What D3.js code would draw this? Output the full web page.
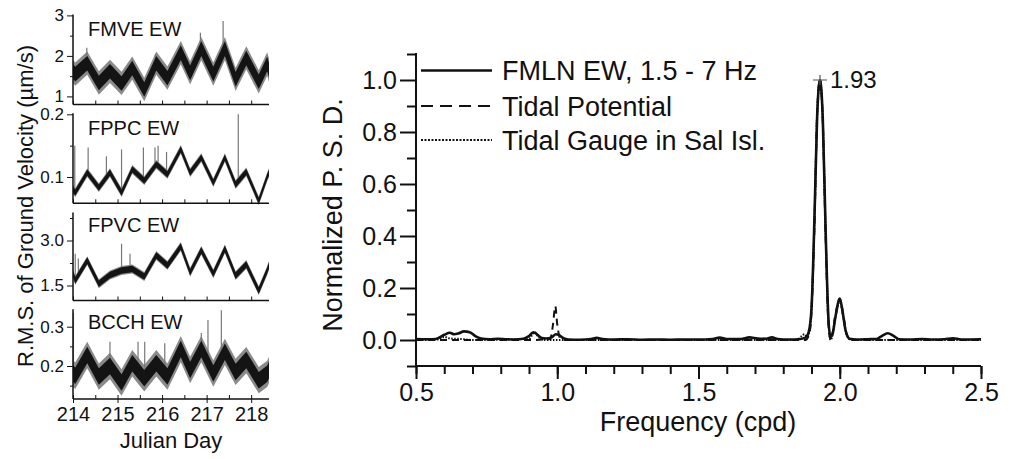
<!DOCTYPE html>
<html>
<head>
<meta charset="utf-8">
<script src="https://cdn.jsdelivr.net/npm/d3@7"></script>
<style>
  body { margin: 0; background: #fff; }
  svg { display: block; font-family: "Liberation Sans", Arial, sans-serif; }
  .axis path, .axis line { stroke: #111; }
  .axis text { fill: #111; }
</style>
</head>
<body>
<svg id="chart" width="1009" height="459"></svg>
<script>
// ---- left panels: RMS of ground velocity vs Julian day ----
const days = [214.0, 214.05, 214.32, 214.58, 214.83, 215.09, 215.33, 215.6, 215.87, 216.12,
              216.42, 216.63, 216.88, 217.15, 217.41, 217.65, 217.89, 218.17, 218.36, 218.4];
const fmveMid = [1.62, 1.55, 1.82, 1.33, 1.62, 1.32, 1.7, 1.17, 1.82, 1.45, 2.08, 1.58, 2.18, 1.55, 2.18, 1.42, 1.95, 1.36, 1.8, 1.65];
const fppcMid = [0.08, 0.075, 0.107, 0.083, 0.107, 0.075, 0.112, 0.094, 0.12, 0.104, 0.144, 0.107, 0.131, 0.091, 0.131, 0.088, 0.108, 0.062, 0.1, 0.107];
const fpvcMid = [1.89, 1.67, 2.33, 1.56, 1.85, 2.0, 2.05, 1.8, 2.5, 2.17, 2.8, 1.94, 2.67, 1.89, 2.72, 1.83, 2.2, 1.33, 2.0, 2.17];
const bcchMid = [0.181, 0.175, 0.228, 0.173, 0.2, 0.158, 0.207, 0.169, 0.207, 0.173, 0.243, 0.19, 0.243, 0.181, 0.236, 0.185, 0.215, 0.164, 0.18, 0.19];
const bandHalf = [0.18, 0.005, 0.11, 0.021];   // half thickness of the noisy band
const fuzzScale = [1.6, 1.4, 1.35, 1.6];        // grey halo around the band
const fmveSpikes = [[214.31, 2.2], [215.85, 2.05], [216.86, 2.57], [217.37, 2.86], [218.34, 1.98]];
const fppcSpikes = [[214.04, 0.15], [214.34, 0.147], [214.75, 0.133], [215.09, 0.144], [215.58, 0.147],
                    [215.84, 0.147], [215.91, 0.15], [216.1, 0.14], [217.71, 0.2]];
const fpvcSpikes = [[214.05, 2.56], [214.12, 2.4], [215.09, 2.89], [215.28, 2.56]];
const bcchSpikes = [[214.01, 0.335], [214.83, 0.262], [215.46, 0.262], [215.61, 0.262], [216.06, 0.258],
                    [216.88, 0.284], [217.03, 0.317], [217.33, 0.342]];
const stationNames = ['FMVE EW', 'FPPC EW', 'FPVC EW', 'BCCH EW'];
const dayTicks = [214, 215, 216, 217, 218];

// ---- right panel: normalized PSD vs frequency ----
const fmlnFreq = [0.50,0.54,0.57,0.60,0.62,0.635,0.65,0.67,0.69,0.71,0.73,0.76,0.79,0.82,0.85,0.88,0.90,0.915,0.93,0.945,
  0.96,0.98,0.995,1.005,1.02,1.04,1.08,1.12,1.14,1.16,1.20,1.25,1.30,1.35,1.40,1.45,1.50,1.55,1.575,1.60,
  1.65,1.68,1.71,1.74,1.76,1.78,1.82,1.86,1.88,1.89,1.90,1.91,1.92,1.93,1.94,1.95,1.96,1.967,1.975,1.985,
  2.00,2.01,2.02,2.035,2.06,2.10,2.13,2.15,2.17,2.19,2.21,2.25,2.29,2.33,2.37,2.40,2.43,2.50];
const fmlnPsd = [0.004,0.003,0.004,0.02,0.028,0.022,0.025,0.033,0.03,0.015,0.006,0.003,0.005,0.003,0.002,0.005,0.015,0.03,0.02,0.008,
  0.006,0.01,0.022,0.02,0.008,0.002,0.001,0.004,0.008,0.004,0.002,0.003,0.001,0.002,0.001,0.002,0.002,0.004,0.009,0.004,
  0.004,0.01,0.006,0.005,0.01,0.004,0.002,0.004,0.01,0.03,0.12,0.45,0.86,1.0,0.85,0.42,0.08,0.012,0.025,0.09,
  0.158,0.11,0.04,0.005,0.002,0.003,0.004,0.016,0.026,0.016,0.003,0.002,0.004,0.002,0.003,0.007,0.002,0.003];
const potFreq = [0.50,0.90,0.975,0.985,0.993,1.0,1.01,1.03,1.88,1.895,1.91,1.92,1.93,1.94,1.95,1.96,1.968,1.985,2.0,2.012,2.025,2.04,2.50];
const potPsd  = [0,0,0.004,0.06,0.13,0.06,0.008,0,0,0.04,0.42,0.87,1.0,0.84,0.4,0.06,0,0.1,0.16,0.1,0.02,0,0];
const gaugeFreq = [0.50,0.58,0.60,0.62,0.66,0.70,0.90,0.92,0.935,0.96,1.85,1.865,1.875,1.885,1.895,1.91,1.92,1.93,1.94,1.95,
  1.96,1.968,1.985,2.0,2.012,2.025,2.04,2.50];
const gaugePsd  = [0,0.002,0.012,0.006,0.004,0,0.005,0.03,0.01,0,0,0.015,0.022,0.012,0.05,0.43,0.87,1.0,0.84,0.41,
  0.07,0,0.09,0.15,0.09,0.02,0,0];
const legendLabels = ['FMLN EW, 1.5 - 7 Hz', 'Tidal Potential', 'Tidal Gauge in Sal Isl.'];
const peakFreq = 1.93, peakValue = 1.0;

const svg = d3.select('#chart');
const zip = (xs, ys) => xs.map((v, i) => [v, ys[i]]);

// ================= left stack =================
const xDay = d3.scaleLinear().domain([214, 218.4]).range([73, 269]);
const panels = [
  { mid: fmveMid, spikes: fmveSpikes, dom: [0.8, 3.0],   rng: [104.5, 15.4], major: [1, 2, 3],    minor: [1.5, 2.5],   fmt: d3.format('d'),   labY: 36 },
  { mid: fppcMid, spikes: fppcSpikes, dom: [0.058, 0.2], rng: [203.3, 114.3], major: [0.1, 0.2], minor: [0.15],       fmt: d3.format('.1f'), labY: 134.5 },
  { mid: fpvcMid, spikes: fpvcSpikes, dom: [1.0, 3.9],   rng: [300.5, 213.5], major: [1.5, 3.0], minor: [2.25, 3.75], fmt: d3.format('.1f'), labY: 232 },
  { mid: bcchMid, spikes: bcchSpikes, dom: [0.116, 0.342], rng: [399, 310.2], major: [0.2, 0.3], minor: [0.15, 0.25], fmt: d3.format('.1f'), labY: 329 }
];

panels.forEach((p, i) => {
  const y = d3.scaleLinear().domain(p.dom).range(p.rng);
  const g = svg.append('g');
  const pts = zip(days, p.mid);
  const hw = bandHalf[i];

  // grey fuzz around the band
  g.append('path')
    .datum(pts)
    .attr('fill', '#8a8a8a')
    .attr('d', d3.area().x(d => xDay(d[0])).y0(d => y(d[1] - hw * fuzzScale[i])).y1(d => y(d[1] + hw * fuzzScale[i])));
  // spikes
  const bis = d3.bisector(d => d[0]).left;
  g.selectAll('line.spike').data(p.spikes).join('line')
    .attr('class', 'spike')
    .attr('x1', d => xDay(d[0])).attr('x2', d => xDay(d[0]))
    .attr('y1', d => y(d[1]))
    .attr('y2', d => {
      const k = Math.max(1, bis(pts, d[0]));
      const a = pts[k - 1], b = pts[k];
      const t = (d[0] - a[0]) / (b[0] - a[0]);
      return y(a[1] + t * (b[1] - a[1]));
    })
    .attr('stroke', '#777').attr('stroke-width', 1.2);
  // dark band
  g.append('path')
    .datum(pts)
    .attr('fill', '#141414')
    .attr('d', d3.area().x(d => xDay(d[0])).y0(d => y(d[1] - hw)).y1(d => y(d[1] + hw)));

  // left axis
  const ay = g.append('g').attr('class', 'axis').attr('transform', 'translate(73,0)');
  ay.call(d3.axisLeft(y).tickValues(p.minor).tickSize(3).tickFormat(''));
  const ayMaj = g.append('g').attr('class', 'axis').attr('transform', 'translate(73,0)')
    .call(d3.axisLeft(y).tickValues(p.major).tickSize(6).tickPadding(3).tickFormat(p.fmt));
  ayMaj.select('.domain').remove();
  ay.select('.domain').attr('d', `M0,${p.rng[0]}V${p.rng[1] - 1}`).attr('stroke-width', 1.5);
  ayMaj.selectAll('text').style('font-size', '17px');

  // bottom axis with inward ticks
  const ax = g.append('g').attr('class', 'axis').attr('transform', `translate(0,${p.rng[0]})`);
  ax.call(d3.axisBottom(xDay).tickValues(d3.range(214, 218.41, 0.5)).tickSize(-4).tickFormat(''));
  ax.select('.domain').attr('d', `M73,0H269`).attr('stroke-width', 1.5);
  if (i === 3) {
    const axl = g.append('g').attr('class', 'axis').attr('transform', `translate(0,${p.rng[0]})`)
      .call(d3.axisBottom(xDay).tickValues(dayTicks).tickSize(4).tickPadding(4).tickFormat(d3.format('d')));
    axl.select('.domain').remove();
    axl.selectAll('text').style('font-size', '20px');
  }

  g.append('text')
    .attr('x', 88).attr('y', p.labY)
    .attr('fill', '#111')
    .style('font-size', '20px')
    .text(stationNames[i]);
});

svg.append('text')
  .attr('transform', 'translate(33,206) rotate(-90)')
  .attr('text-anchor', 'middle')
  .attr('fill', '#111')
  .style('font-size', '22px')
  .text('R.M.S. of Ground Velocity (\u00b5m/s)');
svg.append('text')
  .attr('x', 171).attr('y', 448)
  .attr('text-anchor', 'middle')
  .attr('fill', '#111')
  .style('font-size', '22px')
  .text('Julian Day');

// ================= right panel =================
const x = d3.scaleLinear().domain([0.5, 2.5]).range([416, 981]);
const y = d3.scaleLinear().domain([-0.1, 1.1]).range([366, 54]);
const right = svg.append('g');

// axes
const xMinor = right.append('g').attr('class', 'axis').attr('transform', 'translate(0,366)')
  .call(d3.axisBottom(x).tickValues(d3.range(0.5, 2.51, 0.1)).tickSize(8).tickFormat(''));
xMinor.select('.domain').attr('d', 'M416,0H981');
const xMajor = right.append('g').attr('class', 'axis').attr('transform', 'translate(0,366)')
  .call(d3.axisBottom(x).tickValues([0.5, 1.0, 1.5, 2.0, 2.5]).tickSize(13).tickPadding(4).tickFormat(d3.format('.1f')));
xMajor.select('.domain').remove();
xMajor.selectAll('text').style('font-size', '25px');

const yMinor = right.append('g').attr('class', 'axis').attr('transform', 'translate(416,0)')
  .call(d3.axisLeft(y).tickValues([-0.1, 0.1, 0.3, 0.5, 0.7, 0.9, 1.1]).tickSize(9).tickFormat(''));
yMinor.select('.domain').attr('d', 'M0,366V53');
const yMajor = right.append('g').attr('class', 'axis').attr('transform', 'translate(416,0)')
  .call(d3.axisLeft(y).tickValues([0, 0.2, 0.4, 0.6, 0.8, 1.0]).tickSize(16).tickPadding(3).tickFormat(d3.format('.1f')));
yMajor.select('.domain').remove();
yMajor.selectAll('text').style('font-size', '25px');
right.selectAll('.axis path, .axis line').attr('stroke-width', 2);

// curves
const line = d3.line().x(d => x(d[0])).y(d => y(d[1])).curve(d3.curveMonotoneX);
const series = [
  { pts: zip(fmlnFreq, fmlnPsd), dash: null, w: 2.6 },
  { pts: zip(potFreq, potPsd), dash: '7,5', w: 2 },
  { pts: zip(gaugeFreq, gaugePsd), dash: '1.5,1.5', w: 2 }
];
series.slice().reverse().forEach(s => {
  right.append('path')
    .datum(s.pts)
    .attr('fill', 'none')
    .attr('stroke', '#111')
    .attr('stroke-width', s.w)
    .attr('stroke-dasharray', s.dash)
    .attr('d', line);
});

// peak marker and label
right.append('path')
  .attr('d', `M${x(peakFreq) - 7},${y(peakValue)}H${x(peakFreq) + 7}M${x(peakFreq)},${y(peakValue) - 5}V${y(peakValue) + 5}`)
  .attr('stroke', '#555').attr('stroke-width', 1.2);
right.append('text')
  .attr('x', x(peakFreq) + 10).attr('y', y(peakValue) + 8)
  .attr('fill', '#111')
  .style('font-size', '24px')
  .text(peakFreq.toFixed(2));

// legend
const legend = right.append('g');
const dashes = [null, '12,7', '2,1.5'];
const rowY = [70.5, 106, 140];
legendLabels.forEach((t, i) => {
  legend.append('line')
    .attr('x1', 421).attr('x2', 492).attr('y1', rowY[i]).attr('y2', rowY[i])
    .attr('stroke', '#111').attr('stroke-width', i === 0 ? 2.6 : 2)
    .attr('stroke-dasharray', dashes[i]);
  legend.append('text')
    .attr('x', 502).attr('y', rowY[i] + 9.5)
    .attr('fill', '#111')
    .style('font-size', '27px')
    .text(t);
});

// titles
right.append('text')
  .attr('x', 698).attr('y', 431)
  .attr('text-anchor', 'middle')
  .attr('fill', '#111')
  .style('font-size', '27px')
  .text('Frequency (cpd)');
right.append('text')
  .attr('transform', 'translate(342,215) rotate(-90)')
  .attr('text-anchor', 'middle')
  .attr('fill', '#111')
  .style('font-size', '27px')
  .text('Normalized P. S. D.');
</script>
</body>
</html>
